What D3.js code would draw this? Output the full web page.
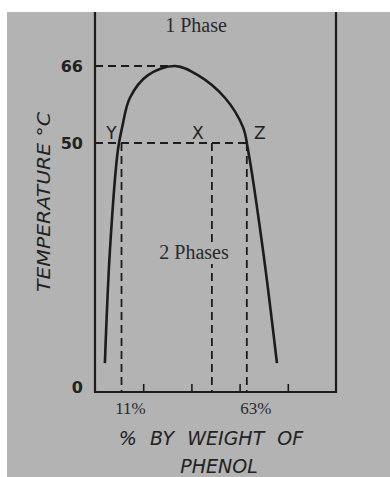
<!DOCTYPE html>
<html>
<head>
<meta charset="utf-8">
<script src="https://cdn.jsdelivr.net/npm/d3@7"></script>
<style>
  body { margin: 0; background: #fff; }
  svg { display: block; }
</style>
</head>
<body>
<svg id="chart" width="390" height="477"></svg>
<script>
// phenol-water miscibility curve
const phenolPct = [4.1, 6.2, 9.5, 11.2, 14.5, 22.0, 33.2, 42.7, 53.9, 61.4, 63.5, 69.7, 75.5];
const tempC     = [5.8, 28.5, 48.6, 53.1, 59.4, 64.1, 66, 64.1, 59.4, 53.3, 48.6, 28.5, 5.8];

const yTicks = [0, 50, 66];
const xMinorTicks = [20, 40, 60, 80];
const tieLine = { temp: 50, y: 11, x: 48.5, z: 63 };
const critical = { pct: 33.2, temp: 66 };
const pctLabels = ['11%', '63%'];

const svg = d3.select('#chart');
const W = 390, H = 477;
const ink = '#1c1c1c';
const paper = '#b3b3b3';

// grey scan background with a white strip top and left
svg.append('rect').attr('width', W).attr('height', H).attr('fill', '#fff');
svg.append('rect').attr('x', 7).attr('y', 12).attr('width', W - 7).attr('height', H - 12).attr('fill', paper);

const x = d3.scaleLinear().domain([0, 100]).range([95, 336]);
const y = d3.scaleLinear().domain([0, 50, 66]).range([392, 143, 66]);

const frameTop = 12;

// frame: left axis, bottom axis, right border
const frame = svg.append('g').attr('stroke', ink).attr('stroke-width', 2.2).attr('fill', 'none');
frame.append('path')
  .attr('d', `M${x(0)},${frameTop}V${y(0)}H${x(100)}V${frameTop}`);

// minor ticks on bottom axis
const xAxis = d3.axisBottom(x)
  .tickValues(xMinorTicks)
  .tickSizeInner(-8)
  .tickSizeOuter(0)
  .tickFormat('');
const gx = svg.append('g').attr('transform', `translate(0,${y(0)})`).call(xAxis);
gx.select('.domain').remove();
gx.selectAll('.tick line').attr('stroke', ink).attr('stroke-width', 1.6);

// y axis labels
const yAxis = d3.axisLeft(y).tickValues(yTicks).tickSize(0).tickPadding(12);
const gy = svg.append('g').attr('transform', `translate(${x(0)},0)`).call(yAxis);
gy.select('.domain').remove();
gy.selectAll('.tick text')
  .attr('font-family', 'DejaVu Sans, sans-serif')
  .attr('font-size', 16)
  .attr('font-weight', 'bold')
  .attr('fill', '#222')
  .attr('dy', d => d === 0 ? '0.05em' : '0.32em');

// dashed guide lines
const dash = svg.append('g').attr('stroke', ink).attr('stroke-width', 1.8)
  .attr('stroke-dasharray', '8,5').attr('fill', 'none');
dash.append('line')
  .attr('x1', x(0)).attr('x2', x(critical.pct))
  .attr('y1', y(critical.temp)).attr('y2', y(critical.temp));
dash.append('line')
  .attr('x1', x(0)).attr('x2', x(tieLine.z))
  .attr('y1', y(tieLine.temp)).attr('y2', y(tieLine.temp));
[tieLine.y, tieLine.x, tieLine.z].forEach(v => {
  dash.append('line')
    .attr('x1', x(v)).attr('x2', x(v))
    .attr('y1', y(tieLine.temp)).attr('y2', y(0));
});

// the curve
const pts = phenolPct.map((p, i) => [p, tempC[i]]);
const line = d3.line()
  .x(d => x(d[0]))
  .y(d => y(d[1]))
  .curve(d3.curveCatmullRom.alpha(0.5));
svg.append('path')
  .datum(pts)
  .attr('d', line)
  .attr('fill', 'none')
  .attr('stroke', ink)
  .attr('stroke-width', 2.6);

// point letters
const letter = (t, px, dx) => svg.append('text')
  .attr('x', x(px) + dx).attr('y', y(tieLine.temp) - 4)
  .attr('font-family', 'DejaVu Sans, sans-serif')
  .attr('font-size', 17)
  .attr('fill', '#222')
  .attr('text-anchor', 'middle')
  .text(t);
letter('Y', tieLine.y, -10);
letter('X', tieLine.x, -14);
letter('Z', tieLine.z, 13);

// region labels
svg.append('text')
  .attr('x', 196).attr('y', 32)
  .attr('text-anchor', 'middle')
  .attr('font-family', 'Liberation Serif, serif')
  .attr('font-size', 20)
  .attr('fill', '#2a2a2a')
  .text('1 Phase');
// the X line is broken behind "2 Phases"
svg.append('rect')
  .attr('x', 156).attr('y', 244).attr('width', 76).attr('height', 20)
  .attr('fill', paper);
svg.append('text')
  .attr('x', 194).attr('y', 259)
  .attr('text-anchor', 'middle')
  .attr('font-family', 'Liberation Serif, serif')
  .attr('font-size', 20)
  .attr('fill', '#2a2a2a')
  .text('2 Phases');

// percentage labels under the axis
[tieLine.y, tieLine.z].forEach((v, i) => {
  svg.append('text')
    .attr('x', x(v) + 9).attr('y', y(0) + 22)
    .attr('text-anchor', 'middle')
    .attr('font-family', 'Liberation Serif, serif')
    .attr('font-size', 17)
    .attr('fill', '#2a2a2a')
    .text(pctLabels[i]);
});

// axis titles
svg.append('text')
  .attr('transform', 'translate(50,202) rotate(-90)')
  .attr('text-anchor', 'middle')
  .attr('font-family', 'DejaVu Sans, sans-serif')
  .attr('font-style', 'italic')
  .attr('font-size', 17)
  .attr('fill', '#222')
  .attr('textLength', 180)
  .attr('lengthAdjust', 'spacingAndGlyphs')
  .text('TEMPERATURE °C');
svg.append('text')
  .attr('x', 211).attr('y', 445)
  .attr('text-anchor', 'middle')
  .attr('font-family', 'DejaVu Sans, sans-serif')
  .attr('font-style', 'italic')
  .attr('font-size', 19)
  .attr('fill', '#222')
  .attr('word-spacing', 7)
  .text('% BY WEIGHT OF');
svg.append('text')
  .attr('x', 219).attr('y', 473)
  .attr('text-anchor', 'middle')
  .attr('font-family', 'DejaVu Sans, sans-serif')
  .attr('font-style', 'italic')
  .attr('font-size', 19)
  .attr('fill', '#222')
  .text('PHENOL');
</script>
</body>
</html>
